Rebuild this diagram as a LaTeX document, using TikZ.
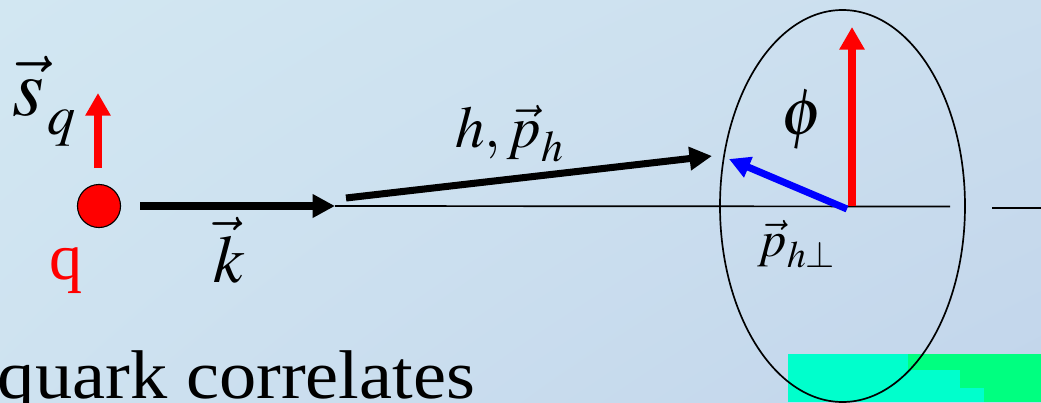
\documentclass[tikz,border=0pt]{standalone}
\usepackage{mathptmx}
\usepackage{fontspec}
\setmainfont{Liberation Serif}
\usetikzlibrary{arrows.meta,shadings}
\definecolor{bgUL}{RGB}{210,231,242}
\definecolor{bgUR}{RGB}{203,222,238}
\definecolor{bgLL}{RGB}{206,226,240}
\definecolor{bgLR}{RGB}{194,213,235}
\definecolor{aqua}{RGB}{0,255,204}
\definecolor{grn}{RGB}{0,255,128}
\begin{document}
\begin{tikzpicture}[x=0.025cm,y=-0.025cm,
  redarrow/.style={draw=red, line width=5.7pt, -{Triangle[length=16pt,width=17pt]}},
  blackarrow/.style={draw=black, line width=5pt, -{Triangle[length=16pt,width=16pt]}},
  bluearrow/.style={draw=blue, line width=5pt, -{Triangle[length=15pt,width=15pt]}},
  thinline/.style={draw=black, line width=1.2pt},
  lbl/.style={inner sep=0pt, outer sep=0pt}]
\useasboundingbox (0,0) rectangle (1041,402);
\clip (0,0) rectangle (1041,402);
\shade[upper left=bgUL, upper right=bgUR, lower left=bgLL, lower right=bgLR] (0,0) rectangle (1041,402);
% coloured patches at the bottom right
\fill[aqua] (788,354) rectangle (1041,402);
\fill[grn] (908,354) rectangle (1041,370);
\fill[grn] (960,370) rectangle (1041,388);
\fill[grn] (984,388) rectangle (1041,402);
% coordinates
\coordinate (sqA) at (98,168);
\coordinate (sqB) at (98,93);
\coordinate (kA) at (140,206);
\coordinate (kB) at (335,206);
\coordinate (lineEnd) at (950,206.5);
\coordinate (hA) at (346,198);
\coordinate (hB) at (712,156);
\coordinate (spinA) at (852,206);
\coordinate (spinB) at (852,27);
\coordinate (perpA) at (847,209);
\coordinate (perpB) at (729,159);
\coordinate (rA) at (992,208);
\coordinate (rB) at (1041,208);
\coordinate (ellC) at (842.5,206);
% ellipse and thin lines
\draw[thinline] (ellC) ellipse [x radius=122.5, y radius=196];
\draw[thinline] (kB) -- (lineEnd);
\draw[thinline] (rA) -- (rB);
% quark
\node[circle, fill=red, draw=black, line width=0.8pt, minimum size=30.6pt, inner sep=0pt] (qdot) at (99,206) {};
\draw[redarrow] (sqA) -- (sqB);
\draw[blackarrow] (kA) -- (kB);
\draw[blackarrow] (hA) -- (hB);
\draw[redarrow] (spinA) -- (spinB);
\draw[bluearrow] (perpA) -- (perpB);
% labels
\node[lbl, anchor=base west] (slbl) at (12,115) {\fontsize{58}{60}\selectfont $\vec{s}$};
\node[lbl, anchor=base west] (sqsub) at (48,134) {\fontsize{40}{42}\selectfont $q$};
\node[lbl, anchor=base, text=red] (qlbl) at (66,279) {\fontsize{47}{49}\selectfont q};
\node[lbl, anchor=base] (klbl) at (229,282) {\fontsize{48}{50}\selectfont $\vec{k}$};
\node[lbl, anchor=base west] (hlbl) at (455,147) {\fontsize{42}{44}\selectfont $h,\vec{p}_{\raisebox{-4pt}{$\scriptstyle h$}}$};
\node[lbl] (philbl) at (802,120) {\fontsize{47}{49}\selectfont $\phi$};
\node[lbl, anchor=base west] (plbl) at (758,256) {\fontsize{36}{38}\selectfont $\vec{p}_{\raisebox{-3pt}{$\scriptstyle h\perp$}}$};
\node[lbl, anchor=base west] (txt) at (-2,398) {\fontsize{49}{50}\selectfont\scalebox{1.08}[1]{quark correlates}};
\end{tikzpicture}
\end{document}
